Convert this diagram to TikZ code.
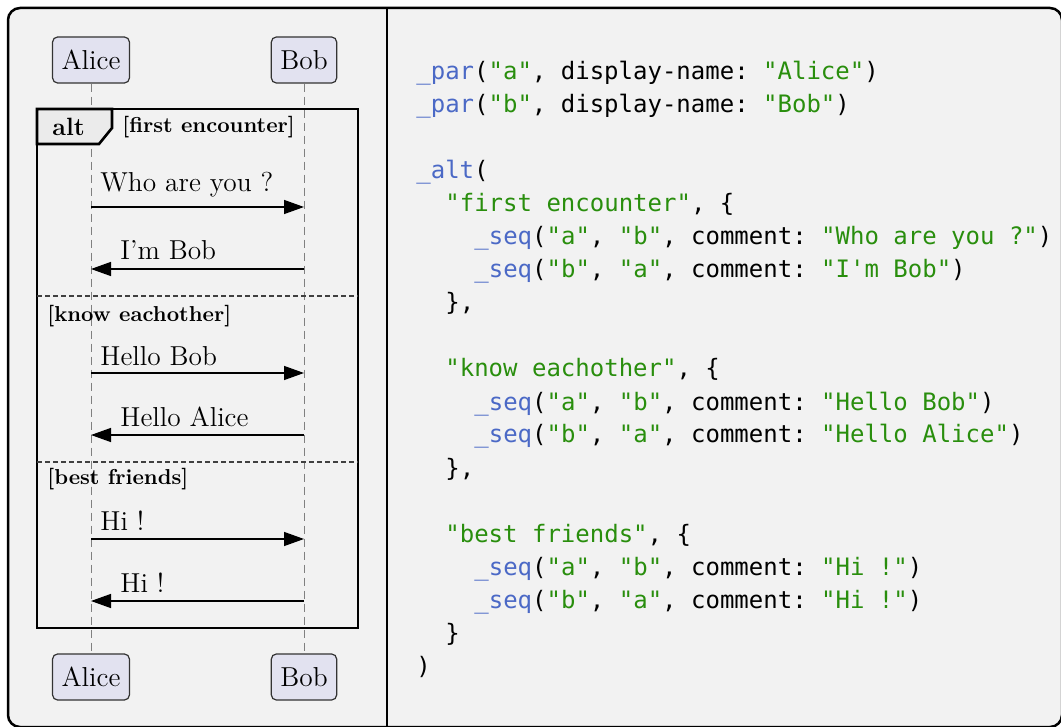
\documentclass[tikz,border=0pt]{standalone}
\usepackage{fontspec}
\setmonofont{DejaVu Sans Mono}
\usetikzlibrary{arrows.meta}
\definecolor{panelgray}{HTML}{F2F2F2}
\definecolor{partfill}{HTML}{E2E2F0}
\definecolor{fnblue}{HTML}{4B69C6}
\definecolor{strgreen}{HTML}{298E0D}
\newcommand{\fn}[1]{\textcolor{fnblue}{#1}}
\newcommand{\str}[1]{\textcolor{strgreen}{#1}}
\tikzset{
  partbox/.style={draw=black!80, fill=partfill, rounded corners=2.5pt, line width=0.6pt,
    minimum height=23pt, inner xsep=4.5pt, font=\fontsize{13.7}{16}\selectfont},
  lifeline/.style={draw=black!50, line width=0.5pt, dash pattern=on 4pt off 2.5pt},
  msg/.style={draw=black, line width=0.7pt, -{Triangle[length=10pt,width=7pt]}},
  msglabel/.style={anchor=base west, inner sep=0pt, font=\fontsize{13.7}{16}\selectfont},
  altframe/.style={draw=black, line width=1.3pt},
  guard/.style={anchor=base west, inner sep=0pt, font=\fontsize{10.8}{13}\selectfont\bfseries},
  separator/.style={draw=black!75, line width=0.6pt, dash pattern=on 2.5pt off 1.5pt},
  codeline/.style={anchor=base west, inner sep=0pt, font=\fontsize{12}{14}\selectfont\ttfamily}
}
\begin{document}
\begin{tikzpicture}[x=0.5pt, y=-0.5pt]
	\useasboundingbox (0,0) rectangle (1061,727);
	% le cadre
	\draw[line width=1.25pt, fill=panelgray, rounded corners=6pt] (8,8) rectangle (1062,727);
	\draw[line width=1.25pt] (387,8) -- (387,727);
	% les participants
	\node[partbox] (alicetop) at (91,60) {Alice};
	\node[partbox] (bobtop) at (304,60) {Bob};
	\node[partbox] (alicebot) at (91,677) {Alice};
	\node[partbox] (bobbot) at (304,677) {Bob};
	\draw[lifeline] (alicetop) -- (alicebot);
	\draw[lifeline] (bobtop) -- (bobbot);
	% le bloc alt
	\draw[altframe] (37,109) rectangle (358,628);
	\draw[altframe, fill=panelgray!97!black] (37,109) -- (112,109) -- (112,128) -- (99,144) -- (37,144) -- cycle;
	\node[anchor=base west, inner sep=0pt, font=\fontsize{12.5}{15}\selectfont\bfseries] (alttag) at (52,136) {alt};
	\node[guard] (guard1) at (122,133) {[first encounter]};
	\draw[separator] (37,296) -- (358,296);
	\node[guard] (guard2) at (47,322) {[know eachother]};
	\draw[separator] (37,462) -- (358,462);
	\node[guard] (guard3) at (47,484) {[best friends]};
	% les messages
	\coordinate (a1) at (91,207); \coordinate (b1) at (304,207);
	\coordinate (a2) at (91,269); \coordinate (b2) at (304,269);
	\coordinate (a3) at (91,373); \coordinate (b3) at (304,373);
	\coordinate (a4) at (91,435); \coordinate (b4) at (304,435);
	\coordinate (a5) at (91,539); \coordinate (b5) at (304,539);
	\coordinate (a6) at (91,601); \coordinate (b6) at (304,601);
	\draw[msg] (a1) -- (b1);
	\node[msglabel] (lab1) at (100,192) {Who are you ?};
	\draw[msg] (b2) -- (a2);
	\node[msglabel] (lab2) at (120,260) {I'm Bob};
	\draw[msg] (a3) -- (b3);
	\node[msglabel] (lab3) at (100,365) {Hello Bob};
	\draw[msg] (b4) -- (a4);
	\node[msglabel] (lab4) at (120,427) {Hello Alice};
	\draw[msg] (a5) -- (b5);
	\node[msglabel] (lab5) at (100,530) {Hi !};
	\draw[msg] (b6) -- (a6);
	\node[msglabel] (lab6) at (120,592) {Hi !};
	% le code
	\node[codeline] (c1) at (416,80) {\fn{\_par}(\str{"a"}, display-name: \str{"Alice"})};
	\node[codeline] (c2) at (416,113) {\fn{\_par}(\str{"b"}, display-name: \str{"Bob"})};
	\node[codeline] (c3) at (416,179) {\fn{\_alt}(};
	\node[codeline] (c4) at (445,212) {\str{"first encounter"}, \{};
	\node[codeline] (c5) at (474,245) {\fn{\_seq}(\str{"a"}, \str{"b"}, comment: \str{"Who are you ?"})};
	\node[codeline] (c6) at (474,278) {\fn{\_seq}(\str{"b"}, \str{"a"}, comment: \str{"I'm Bob"})};
	\node[codeline] (c7) at (445,311) {\},};
	\node[codeline] (c8) at (445,377) {\str{"know eachother"}, \{};
	\node[codeline] (c9) at (474,410) {\fn{\_seq}(\str{"a"}, \str{"b"}, comment: \str{"Hello Bob"})};
	\node[codeline] (c10) at (474,443) {\fn{\_seq}(\str{"b"}, \str{"a"}, comment: \str{"Hello Alice"})};
	\node[codeline] (c11) at (445,476) {\},};
	\node[codeline] (c12) at (445,542) {\str{"best friends"}, \{};
	\node[codeline] (c13) at (474,575) {\fn{\_seq}(\str{"a"}, \str{"b"}, comment: \str{"Hi !"})};
	\node[codeline] (c14) at (474,608) {\fn{\_seq}(\str{"b"}, \str{"a"}, comment: \str{"Hi !"})};
	\node[codeline] (c15) at (445,641) {\}};
	\node[codeline] (c16) at (416,674) {)};
\end{tikzpicture}
\end{document}
